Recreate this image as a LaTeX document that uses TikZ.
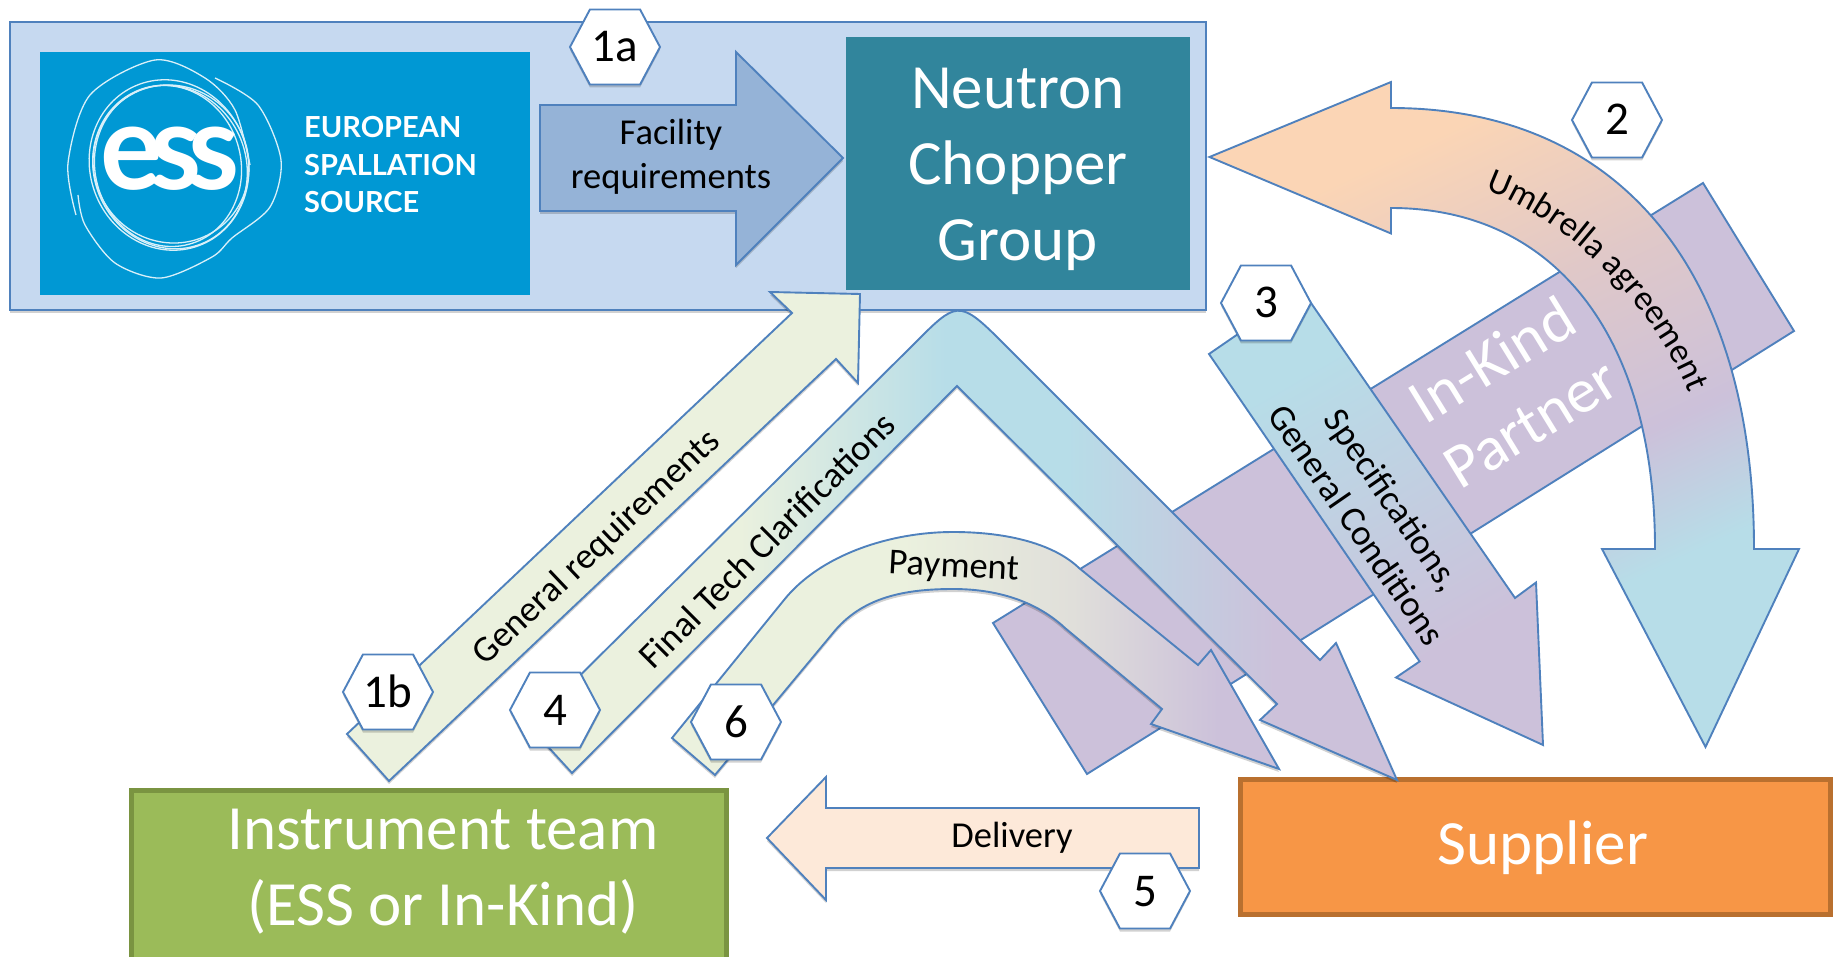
\documentclass[tikz,border=0pt]{standalone}
\usepackage{fontspec}
\setmainfont{Carlito}
\newfontfamily\logofont{Lato}
\usetikzlibrary{shapes.symbols,shadows,decorations.text}
\definecolor{edgeblue}{HTML}{4F81BD}
\definecolor{panelblue}{HTML}{C6D9F0}
\definecolor{facblue}{HTML}{95B3D7}
\definecolor{teal}{HTML}{31859C}
\definecolor{logoblue}{HTML}{0098D4}
\definecolor{greenlight}{HTML}{EBF1DE}
\definecolor{lilac}{HTML}{CCC1DA}
\definecolor{skyb}{HTML}{B7DDE8}
\definecolor{peachy}{HTML}{FDE9D9}
\definecolor{peachb}{HTML}{FBD5B5}
\definecolor{pinkg}{HTML}{E0C8C8}
\definecolor{greyg}{HTML}{E0DFDA}
\definecolor{instgreen}{HTML}{9BBB59}
\definecolor{instedge}{HTML}{7A9441}
\definecolor{supor}{HTML}{F79646}
\definecolor{supedge}{HTML}{B9702F}
\pgfdeclarehorizontalshading{umbrellash}{100bp}{color(0bp)=(peachb); color(28bp)=(peachb); color(42bp)=(pinkg); color(56bp)=(lilac); color(66bp)=(skyb); color(100bp)=(skyb)}
\pgfdeclarehorizontalshading{finalsh}{100bp}{color(0bp)=(greenlight); color(37bp)=(greenlight); color(49bp)=(skyb); color(56bp)=(skyb); color(68bp)=(lilac); color(100bp)=(lilac)}
\pgfdeclarehorizontalshading{paysh}{100bp}{color(0bp)=(greenlight); color(44bp)=(greenlight); color(58bp)=(greyg); color(70bp)=(lilac); color(100bp)=(lilac)}
\pgfdeclarehorizontalshading{specsh}{100bp}{color(0bp)=(skyb); color(30bp)=(skyb); color(68bp)=(lilac); color(100bp)=(lilac)}
\tikzset{
  softshadow/.style={drop shadow={shadow xshift=0pt,shadow yshift=-3pt,opacity=.18,fill=black}},
  blockarrow/.style={draw=edgeblue,line width=1.9pt,line join=miter},
  hexnode/.style={signal,signal to=east and west,signal pointer angle=124,
    minimum width=90pt,minimum height=75pt,inner sep=0pt,draw=edgeblue,line width=1.9pt,fill=white,softshadow,
    font=\fontsize{47}{47}\selectfont,text=black,text height=30pt,text depth=0pt},
  bigtext/.style={text=white,align=center,font=\fontsize{63}{76}\selectfont},
  arrowtext/.style={text=black,align=center,font=\fontsize{36.5}{44}\selectfont},
  logotext/.style={text=white,anchor=west,font=\logofont\bfseries\fontsize{29}{29}\selectfont,inner sep=0pt},
  ring/.style={draw=white!85!logoblue,line width=1.3pt}
}
\begin{document}
\begin{tikzpicture}[x=1pt,y=-1pt]
\clip (0,0) rectangle (1836,957);
% ESS panel
\draw[fill=panelblue,draw=edgeblue,line width=2pt,softshadow] (10,22) rectangle (1206,310);
\fill[logoblue] (40,52) rectangle (530,295);
\foreach \dx/\dy/\rx/\ry/\rot in {0/0/79/86/20, 1/2/76/83/25, -1/1/73/81/15, 2/-1/77/80/35}
  \draw[ring,rotate around={\rot:(169+\dx,165+\dy)}] (169+\dx,165+\dy) ellipse [x radius=\rx,y radius=\ry];
\draw[ring] plot[smooth] coordinates {(76,215) (68,163) (90,95) (155,60) (205,78) (235,110) (250,165)};
\draw[ring] plot[smooth] coordinates {(215,78) (258,105) (281,160) (270,207) (232,238) (212,257) (161,278) (115,263) (85,225) (78,195)};
\node[text=white,inner sep=0pt,transform shape,xscale=.97,font=\logofont\bfseries\fontsize{120}{120}\selectfont] (esslogo) at (170,159) {\addfontfeature{LetterSpace=-11}ess};
\node[logotext] (eu) at (304,127) {EUROPEAN};
\node[logotext] (sp) at (304,165) {SPALLATION};
\node[logotext] (so) at (304,202) {SOURCE};
\fill[teal] (846,37) rectangle (1190,290);
\node[bigtext] (chopper) at (1018,169) {Neutron\\Chopper\\Group};
% Facility arrow
\draw[blockarrow,fill=facblue,softshadow] (540,105) -- (736,105) -- (736,52) -- (843,158) -- (736,265) -- (736,211) -- (540,211) -- cycle;
\node[arrowtext] (facility) at (671,157) {Facility\\requirements};
% boxes at the bottom
\draw[fill=instgreen,draw=instedge,line width=5pt] (131,790) rectangle (726,975);
\node[bigtext] (instrument) at (443,872) {Instrument team\\(ESS or In-Kind)};
\draw[fill=supor,draw=supedge,line width=5pt] (1240,779) rectangle (1830,914);
\node[bigtext] (supplier) at (1543,848) {Supplier};
% In-Kind bar
\draw[blockarrow,fill=lilac] (1703,183) -- (1794,331) -- (1087,774) -- (993,623) -- cycle;
\node[bigtext,rotate=31.6,font=\fontsize{63}{74}\selectfont] (inkind) at (1511,391) {In-Kind\\Partner};
% Umbrella
\draw[blockarrow,shading=umbrellash,shading angle=-65] (1209.5,157) -- (1391,82) -- (1391,108)
  .. controls (1619,108) and (1754,270) .. (1754,549) -- (1799,549) -- (1705.5,747) -- (1602,549) -- (1655,549)
  .. controls (1655,338) and (1556,208) .. (1391,208) -- (1391,233.5) -- cycle;
\path[decorate,decoration={text along path,text align=center,
   text={|\fontsize{35}{35}\selectfont|Umbrella agreement}}]
   (1476,187) .. controls (1560,213) and (1655,302) .. (1692,402);
% Specifications
\draw[blockarrow,shading=specsh,shading angle=-60] (1209,354) -- (1302,290) -- (1515,598) -- (1536,582.5) -- (1543,745) -- (1396,677.5) -- (1419.6,661.5) -- cycle;
\node[arrowtext,rotate=-55.4] (spec) at (1375,512) {Specifications,\\General Conditions};
% General requirements
\draw[blockarrow,fill=greenlight,softshadow] (347,734) -- (792,313) -- (770,292) -- (860,294) -- (858,383) -- (836,359) -- (389,781) -- cycle;
\node[arrowtext,rotate=43.5] (genreq) at (597,548) {General requirements};
% Final tech
\draw[blockarrow,shading=finalsh,softshadow] (572,773) -- (529,726) -- (915,343) .. controls (955.7,302) and (959,299) .. (1000,340)
  -- (1320,660) -- (1336,643) -- (1397,780) -- (1260,720) -- (1277,704) -- (957,386) -- cycle;
\node[arrowtext,rotate=45] (final) at (767,540) {Final Tech Clarifications};
% Payment
\draw[blockarrow,shading=paysh,softshadow] (672,738) -- (784,600) .. controls (820,555) and (890,532) .. (953,532)
  .. controls (1010,532) and (1055,545) .. (1079,568) -- (1198,665) -- (1211,650) -- (1279,769) -- (1151,724) -- (1162,709)
  -- (1065,628) .. controls (1035,600) and (995,589) .. (953,589) .. controls (905,589) and (862,597) .. (833,633) -- (715,775) -- cycle;
\node[arrowtext,rotate=-3] (payment) at (954,568) {Payment};
% Delivery
\draw[blockarrow,fill=peachy,softshadow] (767,838) -- (826,777) -- (826,808) -- (1199,808) -- (1199,868) -- (826,868) -- (826,900) -- cycle;
\node[arrowtext] (delivery) at (1012,838) {Delivery};
% Hexagon labels
\node[hexnode] (h1a) at (615,47) {1a};
\node[hexnode] (h2) at (1617,120) {2};
\node[hexnode] (h3) at (1266,303) {3};
\node[hexnode] (h1b) at (388,692) {1b};
\node[hexnode] (h4) at (555,710) {4};
\node[hexnode] (h6) at (736,722) {6};
\node[hexnode] (h5) at (1145,891) {5};
\end{tikzpicture}
\end{document}
